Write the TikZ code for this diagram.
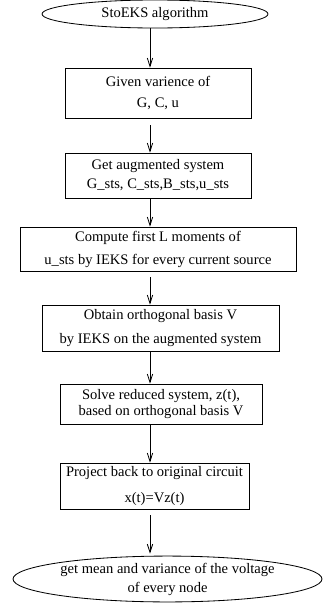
\documentclass[tikz,border=0pt]{standalone}
\usepackage{fontspec}
\setmainfont{Liberation Serif}
\usepackage{tikz}
\usetikzlibrary{positioning,arrows.meta,shapes.geometric}
\newcommand{\pxu}{0.6667pt}

\begin{document}
\begin{tikzpicture}[x=0.6667pt,y=-0.6667pt,line width=0.55pt,
    every node/.style={font=\fontsize{9.7}{12}\selectfont,align=center}]
      \tikzstyle{b}=[rectangle,draw,inner sep=0pt];
      \tikzstyle{e}=[ellipse,draw,inner sep=0pt];
      \tikzstyle{arr}=[-{Straight Barb[length=5.5pt,width=3.6pt]}];
      \useasboundingbox (0,0) rectangle (323,605);
      \coordinate (ax) at (150,0);
      \node[e,minimum width=226*\pxu,minimum height=28*\pxu] (s) at (155,14) {StoEKS algorithm};
      \node[b,minimum width=186*\pxu,minimum height=50*\pxu] (1) at (158,93) {Given varience of\\[2pt] G, C, u};
      \node[b,minimum width=186*\pxu,minimum height=45*\pxu] (2) at (158,175.5) {Get augmented system\\[0.7pt]G\_sts, C\_sts,B\_sts,u\_sts};
      \node[b,minimum width=276*\pxu,minimum height=44*\pxu] (3) at (158,249) {Compute first L moments of\\[3.3pt]u\_sts by IEKS for every current source};
      \node[b,minimum width=237*\pxu,minimum height=46*\pxu] (4) at (160.5,328) {Obtain orthogonal basis V\\[4pt]by IEKS on the augmented system};
      \node[b,minimum width=202*\pxu,minimum height=40*\pxu] (5) at (161,404) {Solve reduced system, z(t),\\[-1.3pt]based on orthogonal basis V};
      \node[b,minimum width=189*\pxu,minimum height=46*\pxu] (6) at (154.5,486) {Project back to original circuit\\[4.7pt]x(t)=Vz(t)};
      \node[e,minimum width=309*\pxu,minimum height=42*\pxu] (t) at (167.5,579) {get mean and variance of the voltage\\[0.7pt]of every node};
      \draw[arr] (s.south -| ax) -- (1.north -| ax);
      \draw[arr,shorten <=7*\pxu] (1.south -| ax) -- (2.north -| ax);
      \draw[arr] (2.south -| ax) -- (3.north -| ax);
      \draw[arr,shorten <=6*\pxu] (3.south -| ax) -- (4.north -| ax);
      \draw[arr] (4.south -| ax) -- (5.north -| ax);
      \draw[arr] (5.south -| ax) -- (6.north -| ax);
      \draw[arr,shorten <=6*\pxu,shorten >=2*\pxu] (6.south -| ax) -- (t.north -| ax);
    \end{tikzpicture}
\end{document}
